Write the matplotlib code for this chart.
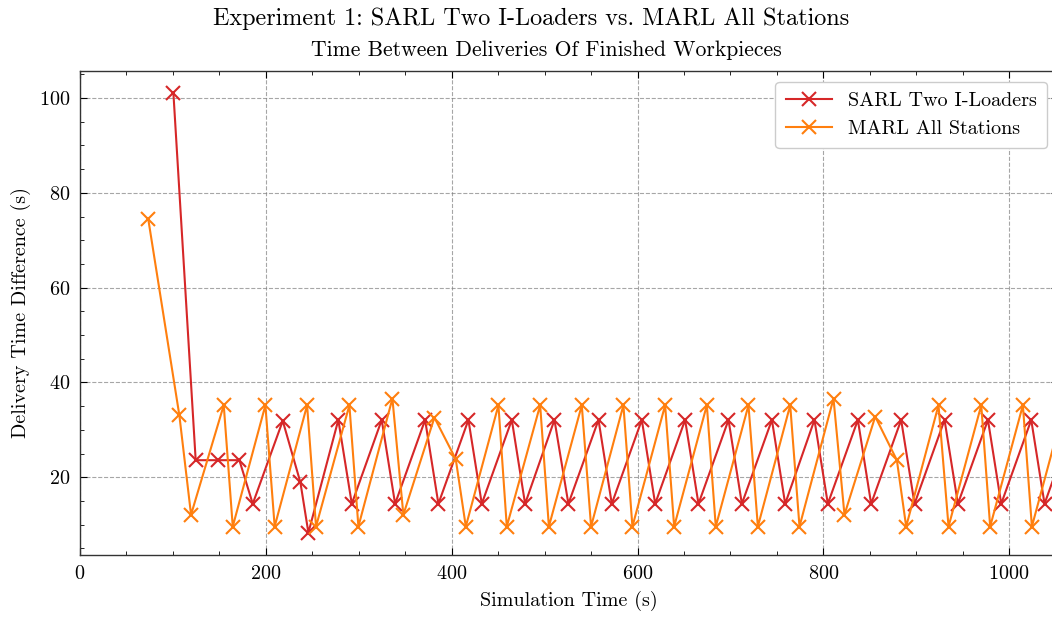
import matplotlib
matplotlib.use("Agg")
import matplotlib.pyplot as plt
from matplotlib.ticker import MultipleLocator

# Data
sarl_time = [100.5, 124.5, 148.2, 171.5, 185.9, 218.2, 237.2, 245.8, 278.0, 292.5,
             324.7, 339.1, 371.4, 385.7, 418.0, 432.4, 464.7, 479.0, 510.6, 525.6,
             558.0, 572.3, 604.6, 619.0, 651.2, 665.6, 697.9, 712.3, 744.6, 758.9,
             790.4, 804.8, 837.1, 851.4, 883.7, 898.1, 930.4, 944.8, 977.1, 991.4,
             1023.7, 1038.0, 1070.3]
sarl_diff = [101.1, 23.6, 23.6, 23.6, 14.4, 31.9, 18.9, 8.3, 32.1, 14.4,
             32.1, 14.4, 32.1, 14.4, 32.1, 14.4, 32.1, 14.4, 32.1, 14.4,
             32.1, 14.4, 32.1, 14.4, 32.1, 14.4, 32.1, 14.4, 32.1, 14.4,
             32.1, 14.4, 32.1, 14.4, 32.1, 14.4, 32.1, 14.4, 32.1, 14.4,
             32.1, 14.4, 32.1]

marl_time = [73.5, 106.9, 119.5, 154.7, 164.4, 199.5, 209.5, 244.4, 254.0, 289.9,
             299.6, 336.2, 348.0, 381.4, 404.4, 415.2, 450.3, 459.3, 495.2, 504.6,
             540.0, 550.0, 584.8, 594.5, 629.7, 639.4, 674.6, 684.2, 719.4, 729.5,
             764.3, 774.3, 810.9, 822.7, 855.8, 879.1, 889.1, 923.9, 934.7, 969.9,
             979.5, 1014.7, 1024.4, 1059.6]
marl_diff = [74.4, 33.1, 12.1, 35.2, 9.6, 35.2, 9.6, 35.2, 9.6, 35.2,
             9.6, 36.6, 12.1, 32.6, 23.8, 9.6, 35.2, 9.6, 35.2, 9.6,
             35.2, 9.6, 35.2, 9.6, 35.2, 9.6, 35.2, 9.6, 35.2, 9.6,
             35.2, 9.6, 36.6, 12.1, 32.8, 23.6, 9.6, 35.2, 9.6, 35.2,
             9.6, 35.2, 9.6, 35.2]

plt.rcParams['font.family'] = 'serif'
plt.rcParams['font.serif'] = ['cmr10', 'DejaVu Serif']
plt.rcParams['mathtext.fontset'] = 'cm'
plt.rcParams['axes.formatter.use_mathtext'] = True
plt.rcParams['xtick.direction'] = 'in'
plt.rcParams['ytick.direction'] = 'in'
plt.rcParams['xtick.top'] = True
plt.rcParams['ytick.right'] = True

fig = plt.figure(figsize=(10.52, 6.17), dpi=100)
# the plot area runs a little past the right edge of the image, as in the original
ax = fig.add_axes([80 / 1052, 1 - 555 / 617, 978 / 1052, (555 - 71) / 617])

ax.plot(sarl_time, sarl_diff, color='#d62728', marker='x', markersize=10,
        markeredgewidth=1.5, linewidth=1.5, label='SARL Two I-Loaders')
ax.plot(marl_time, marl_diff, color='#ff7f0e', marker='x', markersize=10,
        markeredgewidth=1.5, linewidth=1.5, label='MARL All Stations')

ax.set_xlim(0, 1052.5)
ax.set_ylim(3.6, 105.7)
ax.xaxis.set_major_locator(MultipleLocator(200))
ax.xaxis.set_minor_locator(MultipleLocator(50))
ax.yaxis.set_major_locator(MultipleLocator(20))
ax.yaxis.set_minor_locator(MultipleLocator(5))
ax.tick_params(which='major', length=5, width=0.8, labelsize=14.5)
ax.tick_params(axis='x', which='major', pad=7)
ax.tick_params(axis='y', which='major', pad=7)
ax.tick_params(which='minor', length=3, width=0.6)
for s in ax.spines.values():
    s.set_linewidth(1.0)
    s.set_color('#333333')

ax.grid(True, which='major', linestyle='--', color='gray', alpha=0.7, linewidth=0.8)

ax.set_xlabel('Simulation Time (s)', fontsize=14.5, labelpad=6)
ax.set_ylabel('Delivery Time Difference (s)', fontsize=14.5, labelpad=6)
fig.text(546 / 1052, 1 - 50 / 617, 'Time Between Deliveries Of Finished Workpieces',
         fontsize=15.6, ha='center', va='center')
fig.suptitle('Experiment 1: SARL Two I-Loaders vs. MARL All Stations', fontsize=17.4,
             x=531 / 1052, y=1 - 19 / 617, va='center')

ax.legend(loc='upper right', fontsize=14.5, frameon=True, fancybox=True,
          edgecolor='#cccccc', framealpha=1.0, handlelength=2.3, borderpad=0.5,
          borderaxespad=0.55)

fig.savefig('out.png', dpi=100)
